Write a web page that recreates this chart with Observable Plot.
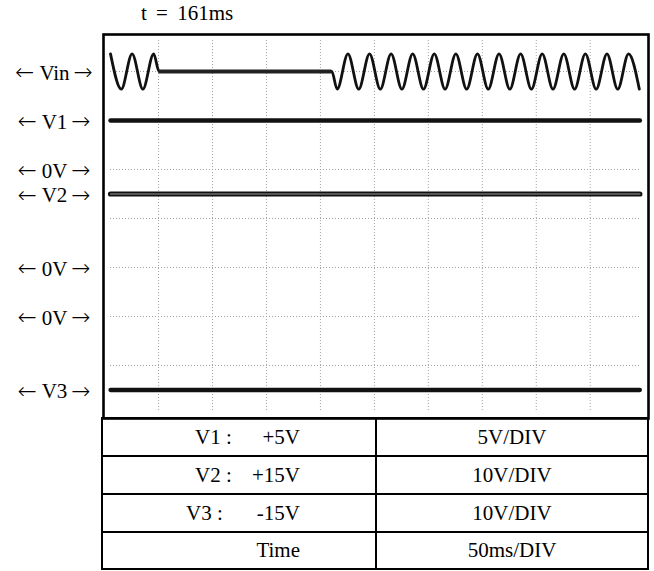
<!DOCTYPE html>
<html>
<head>
<meta charset="utf-8">
<script src="https://cdn.jsdelivr.net/npm/d3@7"></script>
<script src="https://cdn.jsdelivr.net/npm/@observablehq/plot@0.6"></script>
<style>
  body { margin: 0; background: #fff; font-family: "Liberation Serif", "Times New Roman", serif; color: #000; }
  #wrap { position: relative; width: 654px; height: 571px; overflow: hidden; }
  #title { position: absolute; left: 141px; top: 1px; font-size: 21px; line-height: 24px; white-space: pre; word-spacing: 4px; }
  #chart { position: absolute; left: 0; top: 28px; }
  .box { position: absolute; left: 101px; top: 416.5px; width: 548px; height: 153px; box-sizing: border-box; border: 2.6px solid #000; }
  .hl { position: absolute; left: 101px; width: 548px; height: 2.6px; background: #000; }
  .vl { position: absolute; top: 416.5px; height: 153px; width: 2.6px; background: #000; }
  .t { position: absolute; height: 24px; line-height: 24px; font-size: 21px; white-space: pre; }
</style>
</head>
<body>
<div id="wrap">
  <div id="title"></div>
  <div id="chart"></div>
</div>
<script>
// ---------------- data read from the screen ----------------
// time in ms (50 ms/div), 0 = start of the supply interruption
const timeTicks = [0, 50, 100, 150, 200, 250, 300, 350, 400];
// vertical graticule, in divisions
const divTicks = [4, 3, 2, 1, 0, -1, -2];
// sweep extent (ms)
const sweepStart = -44.5;
const sweepEnd = 446;
// interruption of Vin (ms)
const cutStart = 0.5;
const cutEnd = 160.5;
const cutLabel = "t = 161ms";
// Vin trace: peaks / troughs / interruption points (time ms)
const vinTime = [-44.5, -34.5, -24.5, -14.5, -4.5, 0.5, 160.5,
  165.5, 175.5, 185.5, 195.5, 205.5, 215.5, 225.5, 235.5, 245.5, 255.5,
  265.5, 275.5, 285.5, 295.5, 305.5, 315.5, 325.5, 335.5, 345.5, 355.5,
  365.5, 375.5, 385.5, 395.5, 405.5, 415.5, 425.5, 435.5, 445.5];
// Vin level (divisions on screen)
const vinLevel = [4.36, 3.64, 4.36, 3.64, 4.36, 4.0, 4.0,
  3.64, 4.36, 3.64, 4.36, 3.64, 4.36, 3.64, 4.36, 3.64, 4.36,
  3.64, 4.36, 3.64, 4.36, 3.64, 4.36, 3.64, 4.36, 3.64, 4.36,
  3.64, 4.36, 3.64, 4.36, 3.64, 4.36, 3.64, 4.36, 3.64];
const vinCenter = 4;
// DC channels
const channels = ["V1", "V2", "V3"];
const channelVolts = [5, 15, -15];
const channelVoltsPerDiv = [5, 10, 10];
const channelZeroDiv = [2, 0, -1];   // position of each channel's 0V marker
// table
const tableLabels = ["V1 :", "V2 :", "V3 :", ""];
const tableValues = ["+5V", "+15V", "-15V", "Time"];
const tableScales = ["5V/DIV", "10V/DIV", "10V/DIV", "50ms/DIV"];

// ---------------- build ----------------
const vin = vinTime.map((t, i) => ({t, v: vinLevel[i]}));
const dc = channels.map((name, i) => ({
  name,
  level: channelZeroDiv[i] + channelVolts[i] / channelVoltsPerDiv[i]
}));
const dcLines = dc.flatMap(d => [{name: d.name, t: sweepStart, v: d.level}, {name: d.name, t: sweepEnd, v: d.level}]);
const labels = [
  {text: "Vin", y: vinCenter},
  ...dc.map(d => ({text: d.name, y: d.level})),
  ...channelZeroDiv.map(z => ({text: "0V", y: z}))
];

document.getElementById("title").textContent = cutLabel;

// measure label widths to place the arrows around them
const ctx = document.createElement("canvas").getContext("2d");
ctx.font = "21px 'Liberation Serif'";
const SERIF = "'Liberation Serif', 'Times New Roman', serif";
const labelMarks = labels.flatMap(l => {
  const w = ctx.measureText(l.text).width;
  const c = -49; // label centre relative to the frame's left edge
  return [
    Plot.text([l], {frameAnchor: "left", y: "y", text: "text", dx: c, dy: 1.5, textAnchor: "middle", fontFamily: SERIF, fontSize: 21, fill: "#000"}),
    Plot.text([l], {frameAnchor: "left", y: "y", text: () => "\u2190", dx: c - w / 2 - 5, dy: 1.5, textAnchor: "end", fontFamily: "DejaVu Sans", fontSize: 23, fontWeight: 300, fill: "#000"}),
    Plot.text([l], {frameAnchor: "left", y: "y", text: () => "\u2192", dx: c + w / 2 + 4, dy: 1.5, textAnchor: "start", fontFamily: "DejaVu Sans", fontSize: 23, fontWeight: 300, fill: "#000"})
  ];
});

const grid = {stroke: "#a0a0a0", strokeWidth: 1, strokeDasharray: "1,2"};
const chart = Plot.plot({
  width: 654,
  height: 392,
  marginTop: 6,
  marginBottom: 2,
  marginLeft: 103,
  marginRight: 6,
  x: {domain: [-51, 454], axis: null},
  y: {domain: [-3.082, 4.755], axis: null},
  style: {fontFamily: SERIF, fontSize: "21px", background: "transparent", color: "#000"},
  marks: [
    Plot.ruleX(timeTicks, {x: d => d, y1: -2.92, y2: 4.67, ...grid}),
    Plot.ruleY(divTicks, {y: d => d, x1: sweepStart, x2: sweepEnd, ...grid}),
    Plot.line(vin, {x: "t", y: "v", curve: "monotone-x", stroke: "#111", strokeWidth: 2.8}),
    Plot.ruleY([vinCenter], {x1: cutStart, x2: cutEnd, stroke: "#222", strokeWidth: 4.2}),
    Plot.line(dcLines.filter(d => d.name === "V1"), {x: "t", y: "v", stroke: "#111", strokeWidth: 4.5}),
    Plot.line(dcLines.filter(d => d.name === "V2"), {x: "t", y: "v", stroke: "#111", strokeWidth: 5.2}),
    Plot.line(dcLines.filter(d => d.name === "V2"), {x: "t", y: "v", stroke: "#9a9a9a", strokeWidth: 1.2}),
    Plot.line(dcLines.filter(d => d.name === "V3"), {x: "t", y: "v", stroke: "#111", strokeWidth: 4.3}),
    Plot.frame({stroke: "#000", strokeWidth: 2.6}),
    ...labelMarks
  ]
});
document.getElementById("chart").appendChild(chart);

// table (lines + text)
const wrap = document.getElementById("wrap");
function add(cls, style, text) {
  const d = document.createElement("div");
  d.className = cls;
  Object.assign(d.style, style);
  if (text !== undefined) d.textContent = text;
  wrap.appendChild(d);
}
add("box", {});
[454.7, 492.7, 530.7].forEach(y => add("hl", {top: y + "px"}));
add("vl", {left: "374.7px"});
const rowCenters = [437, 475, 513, 550];
const labelLeft = [195, 195, 186, 0];
tableValues.forEach((v, i) => {
  const top = (rowCenters[i] - 12) + "px";
  if (tableLabels[i]) add("t", {left: labelLeft[i] + "px", top}, tableLabels[i]);
  add("t", {left: "104px", width: "196px", textAlign: "right", top}, v);
  add("t", {left: "376px", width: "272px", textAlign: "center", top}, tableScales[i]);
});
</script>
</body>
</html>
